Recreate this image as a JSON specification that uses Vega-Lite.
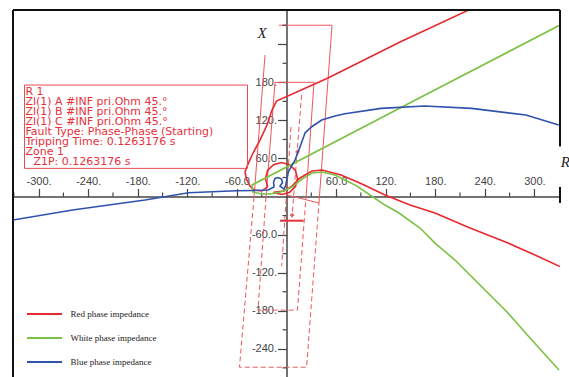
{
  "$schema": "https://vega.github.io/schema/vega-lite/v6.json",
  "width": 547,
  "height": 368,
  "autosize": {"type": "none"},
  "padding": {"left": 13, "top": 10, "right": 9, "bottom": 0},
  "background": "white",
  "config": {"view": {"stroke": null}},
  "datasets": {
    "traj": [
      {"s": "Red phase impedance", "o": 1, "R": 219.7, "X": 293.5},
      {"s": "Red phase impedance", "o": 2, "R": 137.4, "X": 243.5},
      {"s": "Red phase impedance", "o": 3, "R": 50.2, "X": 186.8},
      {"s": "Red phase impedance", "o": 4, "R": -12.1, "X": 150.5},
      {"s": "Red phase impedance", "o": 5, "R": -17.5, "X": 136.3},
      {"s": "Red phase impedance", "o": 6, "R": -23.6, "X": 112.7},
      {"s": "Red phase impedance", "o": 7, "R": -32.1, "X": 89.0},
      {"s": "Red phase impedance", "o": 8, "R": -40.5, "X": 68.6},
      {"s": "Red phase impedance", "o": 9, "R": -46.6, "X": 51.2},
      {"s": "Red phase impedance", "o": 10, "R": -50.2, "X": 38.6},
      {"s": "Red phase impedance", "o": 11, "R": -48.4, "X": 27.6},
      {"s": "Red phase impedance", "o": 12, "R": -44.2, "X": 16.5},
      {"s": "Red phase impedance", "o": 13, "R": -39.3, "X": 10.2},
      {"s": "Red phase impedance", "o": 14, "R": -29.6, "X": 8.7},
      {"s": "Red phase impedance", "o": 15, "R": -22.9, "X": 15.8},
      {"s": "Red phase impedance", "o": 16, "R": -25.4, "X": 28.4},
      {"s": "Red phase impedance", "o": 17, "R": -22.9, "X": 41.0},
      {"s": "Red phase impedance", "o": 18, "R": -15.7, "X": 50.3},
      {"s": "Red phase impedance", "o": 19, "R": -6.1, "X": 53.6},
      {"s": "Red phase impedance", "o": 20, "R": 3.6, "X": 50.3},
      {"s": "Red phase impedance", "o": 21, "R": 10.8, "X": 41.0},
      {"s": "Red phase impedance", "o": 22, "R": 13.3, "X": 28.4},
      {"s": "Red phase impedance", "o": 23, "R": 10.8, "X": 15.8},
      {"s": "Red phase impedance", "o": 24, "R": 3.6, "X": 6.5},
      {"s": "Red phase impedance", "o": 25, "R": -6.1, "X": 3.2},
      {"s": "Red phase impedance", "o": 26, "R": -15.7, "X": 6.5},
      {"s": "Red phase impedance", "o": 27, "R": -3.0, "X": 8.7},
      {"s": "Red phase impedance", "o": 28, "R": 6.7, "X": 16.5},
      {"s": "Red phase impedance", "o": 29, "R": 16.3, "X": 29.2},
      {"s": "Red phase impedance", "o": 30, "R": 30.9, "X": 40.2},
      {"s": "Red phase impedance", "o": 31, "R": 43.0, "X": 41.8},
      {"s": "Red phase impedance", "o": 32, "R": 66.0, "X": 33.9},
      {"s": "Red phase impedance", "o": 33, "R": 91.4, "X": 19.7},
      {"s": "Red phase impedance", "o": 34, "R": 119.2, "X": 2.4},
      {"s": "Red phase impedance", "o": 35, "R": 149.5, "X": -13.4},
      {"s": "Red phase impedance", "o": 36, "R": 179.7, "X": -26.0},
      {"s": "Red phase impedance", "o": 37, "R": 222.1, "X": -49.6},
      {"s": "Red phase impedance", "o": 38, "R": 268.1, "X": -73.3},
      {"s": "Red phase impedance", "o": 39, "R": 300.7, "X": -92.2},
      {"s": "Red phase impedance", "o": 40, "R": 331.0, "X": -110.3},
      {"s": "White phase impedance", "o": 1, "R": 331.0, "X": 270.3},
      {"s": "White phase impedance", "o": 2, "R": 137.4, "X": 139.5},
      {"s": "White phase impedance", "o": 3, "R": -41.8, "X": 18.1},
      {"s": "White phase impedance", "o": 4, "R": -40.5, "X": 7.1},
      {"s": "White phase impedance", "o": 5, "R": -29.6, "X": 3.9},
      {"s": "White phase impedance", "o": 6, "R": -20.0, "X": 3.9},
      {"s": "White phase impedance", "o": 7, "R": -7.9, "X": 7.1},
      {"s": "White phase impedance", "o": 8, "R": -1.8, "X": 9.5},
      {"s": "White phase impedance", "o": 9, "R": 6.7, "X": 15.0},
      {"s": "White phase impedance", "o": 10, "R": 18.8, "X": 27.6},
      {"s": "White phase impedance", "o": 11, "R": 30.9, "X": 37.0},
      {"s": "White phase impedance", "o": 12, "R": 43.0, "X": 38.6},
      {"s": "White phase impedance", "o": 13, "R": 58.7, "X": 33.9},
      {"s": "White phase impedance", "o": 14, "R": 70.8, "X": 26.0},
      {"s": "White phase impedance", "o": 15, "R": 85.3, "X": 16.5},
      {"s": "White phase impedance", "o": 16, "R": 101.1, "X": 2.4},
      {"s": "White phase impedance", "o": 17, "R": 119.2, "X": -13.4},
      {"s": "White phase impedance", "o": 18, "R": 136.1, "X": -26.0},
      {"s": "White phase impedance", "o": 19, "R": 161.6, "X": -49.6},
      {"s": "White phase impedance", "o": 20, "R": 179.7, "X": -73.3},
      {"s": "White phase impedance", "o": 21, "R": 203.9, "X": -100.1},
      {"s": "White phase impedance", "o": 22, "R": 224.5, "X": -126.9},
      {"s": "White phase impedance", "o": 23, "R": 246.3, "X": -155.2},
      {"s": "White phase impedance", "o": 24, "R": 268.1, "X": -183.6},
      {"s": "White phase impedance", "o": 25, "R": 294.7, "X": -223.0},
      {"s": "White phase impedance", "o": 26, "R": 329.8, "X": -273.4},
      {"s": "Blue phase impedance", "o": 1, "R": -331.0, "X": -37.0},
      {"s": "Blue phase impedance", "o": 2, "R": -258.9, "X": -21.3},
      {"s": "Blue phase impedance", "o": 3, "R": -171.2, "X": -5.5},
      {"s": "Blue phase impedance", "o": 4, "R": -118.4, "X": 6.0},
      {"s": "Blue phase impedance", "o": 5, "R": -61.1, "X": 9.1},
      {"s": "Blue phase impedance", "o": 6, "R": -39.3, "X": 9.5},
      {"s": "Blue phase impedance", "o": 7, "R": -22.4, "X": 10.2},
      {"s": "Blue phase impedance", "o": 8, "R": -15.1, "X": 15.0},
      {"s": "Blue phase impedance", "o": 9, "R": -15.7, "X": 22.9},
      {"s": "Blue phase impedance", "o": 10, "R": -13.9, "X": 28.4},
      {"s": "Blue phase impedance", "o": 11, "R": -10.3, "X": 29.9},
      {"s": "Blue phase impedance", "o": 12, "R": -6.1, "X": 27.6},
      {"s": "Blue phase impedance", "o": 13, "R": -4.8, "X": 22.1},
      {"s": "Blue phase impedance", "o": 14, "R": -7.9, "X": 16.5},
      {"s": "Blue phase impedance", "o": 15, "R": -3.0, "X": 11.8},
      {"s": "Blue phase impedance", "o": 16, "R": -1.2, "X": 16.5},
      {"s": "Blue phase impedance", "o": 17, "R": 0.2, "X": 26.0},
      {"s": "Blue phase impedance", "o": 18, "R": 2.2, "X": 38.6},
      {"s": "Blue phase impedance", "o": 19, "R": 6.7, "X": 49.6},
      {"s": "Blue phase impedance", "o": 20, "R": 10.3, "X": 57.5},
      {"s": "Blue phase impedance", "o": 21, "R": 16.3, "X": 78.0},
      {"s": "Blue phase impedance", "o": 22, "R": 22.4, "X": 100.1},
      {"s": "Blue phase impedance", "o": 23, "R": 30.5, "X": 110.0},
      {"s": "Blue phase impedance", "o": 24, "R": 42.6, "X": 120.6},
      {"s": "Blue phase impedance", "o": 25, "R": 58.7, "X": 126.9},
      {"s": "Blue phase impedance", "o": 26, "R": 70.8, "X": 130.5},
      {"s": "Blue phase impedance", "o": 27, "R": 114.4, "X": 139.0},
      {"s": "Blue phase impedance", "o": 28, "R": 167.0, "X": 142.6},
      {"s": "Blue phase impedance", "o": 29, "R": 224.1, "X": 139.0},
      {"s": "Blue phase impedance", "o": 30, "R": 289.8, "X": 128.4},
      {"s": "Blue phase impedance", "o": 31, "R": 329.5, "X": 112.7}
    ],
    "zoneSolid": [
      {"seg": "z3", "o": 1, "R": -9.1, "X": 270.0},
      {"seg": "z3", "o": 2, "R": 55.1, "X": 270.0},
      {"seg": "z3", "o": 3, "R": 39.3, "X": -10.2},
      {"seg": "z3", "o": 4, "R": 0.6, "X": 2.4},
      {"seg": "z3L", "o": 1, "R": -26.0, "X": 223.0},
      {"seg": "z3L", "o": 2, "R": -39.3, "X": -0.8},
      {"seg": "z2", "o": 1, "R": -24.8, "X": -0.8},
      {"seg": "z2", "o": 2, "R": -13.9, "X": 180.0},
      {"seg": "z2", "o": 3, "R": 33.3, "X": 180.0},
      {"seg": "z2", "o": 4, "R": 23.6, "X": -0.8}
    ],
    "zoneDashed": [
      {"seg": "d3", "o": 1, "R": -39.3, "X": -0.8},
      {"seg": "d3", "o": 2, "R": -56.9, "X": -269.0},
      {"seg": "d3", "o": 3, "R": 24.3, "X": -269.0},
      {"seg": "d3", "o": 4, "R": 39.3, "X": -10.2},
      {"seg": "d2", "o": 1, "R": -24.8, "X": -0.8},
      {"seg": "d2", "o": 2, "R": -34.5, "X": -179.0},
      {"seg": "d2", "o": 3, "R": 13.3, "X": -179.0},
      {"seg": "d2", "o": 4, "R": 23.6, "X": -0.8},
      {"seg": "d1L", "o": 1, "R": 5.4, "X": 109.5},
      {"seg": "d1L", "o": 2, "R": -5.8, "X": -109.5},
      {"seg": "d1R", "o": 1, "R": 18.2, "X": 160.0},
      {"seg": "d1R", "o": 2, "R": 6.7, "X": -32.3}
    ],
    "marks": [
      {"R": 13.3, "X": 70.6},
      {"R": 6.7, "X": -29.2}
    ],
    "minorR": [
      {"R": -330}, {"R": -270}, {"R": -210}, {"R": -150}, {"R": -90}, {"R": -30},
      {"R": 30}, {"R": 90}, {"R": 150}, {"R": 210}, {"R": 270}
    ],
    "minorX": [
      {"X": -270}, {"X": -210}, {"X": -150}, {"X": -90}, {"X": -30},
      {"X": 30}, {"X": 90}, {"X": 150}, {"X": 210}, {"X": 270}
    ]
  },
  "layer": [
    {
      "data": {"name": "zoneSolid"},
      "mark": {"type": "line", "color": "#f0555c", "strokeWidth": 1, "clip": true},
      "encoding": {
        "x": {"field": "R", "type": "quantitative", "scale": {"domain": [-331, 331], "nice": false, "zero": false}},
        "y": {"field": "X", "type": "quantitative", "scale": {"domain": [-286, 294], "nice": false, "zero": false}},
        "detail": {"field": "seg"},
        "order": {"field": "o"}
      }
    },
    {
      "data": {"name": "zoneDashed"},
      "mark": {"type": "line", "color": "#f0555c", "strokeWidth": 1, "strokeDash": [5, 3], "clip": true},
      "encoding": {
        "x": {"field": "R", "type": "quantitative"},
        "y": {"field": "X", "type": "quantitative"},
        "detail": {"field": "seg"},
        "order": {"field": "o"}
      }
    },
    {
      "data": {"name": "minorR"},
      "mark": {"type": "rule", "color": "#444", "strokeWidth": 1.2},
      "encoding": {
        "x": {"field": "R", "type": "quantitative"},
        "y": {"datum": 0},
        "y2": {"datum": 6.3}
      }
    },
    {
      "data": {"name": "minorX"},
      "mark": {"type": "rule", "color": "#444", "strokeWidth": 1.2},
      "encoding": {
        "y": {"field": "X", "type": "quantitative"},
        "x": {"datum": 0},
        "x2": {"datum": -4.8}
      }
    },
    {
      "data": {"values": [{}]},
      "mark": {"type": "rule", "color": "#e8303a", "strokeWidth": 2},
      "encoding": {
        "x": {"datum": -7.9},
        "x2": {"datum": 20.6},
        "y": {"datum": -38.1}
      }
    },
    {
      "data": {"name": "marks"},
      "mark": {"type": "point", "shape": "cross", "filled": true, "size": 18, "color": "#e8303a"},
      "encoding": {
        "x": {"field": "R", "type": "quantitative"},
        "y": {"field": "X", "type": "quantitative"}
      }
    },
    {
      "data": {"name": "traj"},
      "mark": {"type": "line", "strokeWidth": 1.6, "clip": true},
      "encoding": {
        "x": {
          "field": "R", "type": "quantitative",
          "axis": {
            "orient": "top", "offset": -186.5, "title": null, "grid": false,
            "values": [-300, -240, -180, -120, -60, 60, 120, 180, 240, 300],
            "domainColor": "#444", "domainWidth": 1.5,
            "tickColor": "#444", "tickWidth": 1.2, "tickSize": 8,
            "labelExpr": "abs(datum.value) === 60 ? datum.value + '.0' : datum.value + '.'",
            "labelFont": "Liberation Sans", "labelFontSize": 11, "labelColor": "#444",
            "labelPadding": 2, "labelOverlap": false, "labelFlush": false, "labelBound": false
          }
        },
        "y": {
          "field": "X", "type": "quantitative",
          "axis": {
            "orient": "left", "offset": -273.5, "title": null, "grid": false,
            "values": [-240, -180, -120, -60, 60, 120, 180, 240],
            "domainColor": "#444", "domainWidth": 1.5,
            "tickColor": "#444", "tickWidth": 1.2, "tickSize": 9,
            "labelExpr": "datum.value === 240 ? '' : (abs(datum.value) === 60 ? datum.value + '.0' : datum.value + '.')",
            "labelFont": "Liberation Sans", "labelFontSize": 11, "labelColor": "#444",
            "labelPadding": 1, "labelOverlap": false, "labelFlush": false, "labelBound": false
          }
        },
        "color": {
          "field": "s", "type": "nominal",
          "scale": {"domain": ["Red phase impedance", "White phase impedance", "Blue phase impedance"], "range": ["#e8282f", "#7bc144", "#2f52ad"]},
          "legend": {
            "orient": "none", "legendX": 25.5, "legendY": 298, "title": null,
            "symbolType": "M-3.5,0H3.5", "symbolSize": 100, "symbolStrokeWidth": 2,
            "labelFont": "Liberation Serif", "labelFontSize": 9, "labelColor": "#222",
            "rowPadding": 13, "labelOffset": 20, "padding": 0
          }
        },
        "order": {"field": "o"}
      }
    },
    {
      "data": {"values": [{}]},
      "mark": {"type": "rect", "fill": null, "fillOpacity": 0, "stroke": "#ec4a50", "strokeWidth": 1},
      "encoding": {
        "x": {"datum": -317.1}, "x2": {"datum": -47.2},
        "y": {"datum": 175.7}, "y2": {"datum": 44.4}
      }
    },
    {
      "data": {"values": [{}]},
      "mark": {"type": "text", "align": "left", "baseline": "top", "font": "DejaVu Sans", "fontSize": 11, "lineHeight": 10, "color": "#e8303a"},
      "encoding": {
        "x": {"datum": -316},
        "y": {"datum": 174.9},
        "text": {"value": ["R 1", "Zl(1) A #INF pri.Ohm 45.°", "Zl(1) B #INF pri.Ohm 45.°", "Zl(1) C #INF pri.Ohm 45.°", "Fault Type: Phase-Phase (Starting)", "Tripping Time: 0.1263176 s", "Zone 1"]}
      }
    },
    {
      "data": {"values": [{}]},
      "mark": {"type": "text", "align": "left", "baseline": "top", "font": "DejaVu Sans", "fontSize": 11, "color": "#e8303a"},
      "encoding": {
        "x": {"datum": -306.3},
        "y": {"datum": 64.6},
        "text": {"value": "Z1P: 0.1263176 s"}
      }
    },
    {
      "data": {"values": [{}]},
      "mark": {"type": "text", "align": "center", "baseline": "middle", "font": "Liberation Serif", "fontStyle": "italic", "fontSize": 15, "color": "#222"},
      "encoding": {"x": {"datum": -29.6}, "y": {"datum": 257.7}, "text": {"value": "X"}}
    },
    {
      "data": {"values": [{}]},
      "mark": {"type": "text", "align": "left", "baseline": "middle", "font": "Liberation Serif", "fontStyle": "italic", "fontSize": 15, "color": "#222"},
      "encoding": {"x": {"datum": 332}, "y": {"datum": 54.4}, "text": {"value": "R"}}
    },
    {
      "data": {"values": [{}]},
      "mark": {"type": "rule", "color": "#111", "strokeWidth": 2},
      "encoding": {"y": {"datum": 294}}
    },
    {
      "data": {"values": [{}]},
      "mark": {"type": "rule", "color": "#111", "strokeWidth": 2},
      "encoding": {"x": {"datum": -331}}
    },
    {
      "data": {"values": [{}]},
      "mark": {"type": "rule", "color": "#111", "strokeWidth": 2},
      "encoding": {"x": {"datum": 331}, "y": {"datum": 294}, "y2": {"datum": 79}}
    },
    {
      "data": {"values": [{}]},
      "mark": {"type": "rule", "color": "#111", "strokeWidth": 2},
      "encoding": {"x": {"datum": 331}, "y": {"datum": 15}, "y2": {"datum": -10}}
    }
  ]
}
